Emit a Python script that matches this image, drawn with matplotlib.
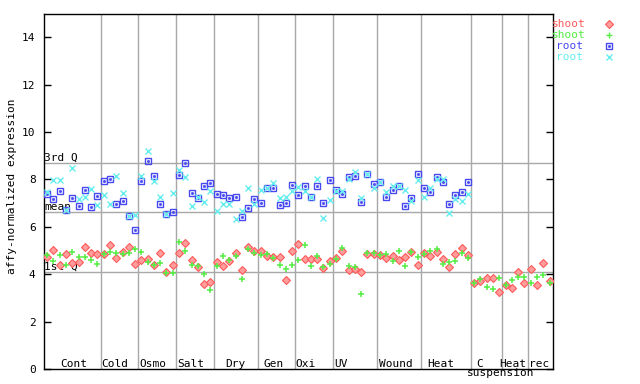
import matplotlib
matplotlib.use('Agg')
import matplotlib.pyplot as plt

plt.rcParams['font.family'] = 'DejaVu Sans Mono'

# experiment groups along x and how many samples each has
groups = ['Cont', 'Cold', 'Osmo', 'Salt', 'Dry', 'Gen', 'Oxi', 'UV',
          'Wound', 'Heat', 'C suspension', 'Heat', 'rec']
group_sizes = [9, 6, 6, 6, 7, 6, 6, 7, 7, 8, 5, 4, 4]

# shoot replicates (all 81 samples)
shoot_a = [4.71, 5.02, 4.38, 4.85, 4.46, 4.51, 5.14, 4.88, 4.84,
           4.85, 5.22, 4.67, 4.95, 5.14, 4.42,
           4.60, 4.64, 4.39, 4.89, 4.11, 4.38,
           4.88, 5.30, 4.60, 4.32, 3.57, 3.68,
           4.50, 4.33, 4.54, 4.88, 4.16, 5.13, 4.96,
           5.00, 4.75, 4.71, 4.71, 3.74, 5.00,
           5.26, 4.65, 4.63, 4.63, 4.28, 4.55,
           4.68, 4.96, 4.16, 4.20, 4.08, 4.85, 4.85,
           4.80, 4.67, 4.75, 4.58, 4.71, 4.92, 4.37,
           4.88, 4.79, 4.95, 4.64, 4.32, 4.84, 5.10, 4.80,
           3.65, 3.70, 3.82, 3.82, 3.23,
           3.53, 3.40, 4.08, 3.65,
           4.20, 3.53, 4.46, 3.70]
shoot_b = [4.80, 4.55, 4.80, 4.37, 4.94, 4.74, 4.74, 4.60, 4.42,
           4.85, 4.93, 4.88, 4.86, 4.88, 5.05,
           4.95, 4.50, 4.39, 4.46, 4.04, 4.04,
           5.36, 4.96, 4.40, 4.36, 4.03, 3.32,
           4.33, 4.75, 4.58, 4.75, 3.78, 5.05, 4.88,
           4.80, 4.84, 4.67, 4.41, 4.20, 4.37,
           4.60, 5.22, 4.36, 4.77, 4.32, 4.42,
           4.64, 5.09, 4.33, 4.29, 3.15, 4.88, 4.88,
           4.80, 4.84, 4.54, 5.00, 4.33, 4.92, 4.71,
           4.85, 4.98, 5.06, 4.42, 4.52, 4.55, 4.88, 4.67,
           3.65, 3.78, 3.44, 3.36, 3.82,
           3.53, 3.74, 3.87, 3.87,
           3.61, 3.87, 3.95, 3.61]

# root replicates (first 68 samples)
root_a = [7.40, 7.16, 7.51, 6.70, 7.20, 6.87, 7.54, 6.83, 7.29,
          7.92, 8.04, 6.96, 7.09, 6.45, 5.86,
          7.94, 8.79, 8.14, 6.96, 6.54, 6.62,
          8.18, 8.68, 7.41, 7.20, 7.72, 7.83,
          7.38, 7.34, 7.20, 7.28, 6.40, 6.78, 7.16,
          6.99, 7.65, 7.66, 6.91, 6.99, 7.75,
          7.33, 7.71, 7.24, 7.71, 6.99, 7.96,
          7.54, 7.37, 8.09, 8.13, 7.03, 8.24, 7.79,
          7.88, 7.28, 7.54, 7.71, 6.88, 7.20, 8.25,
          7.66, 7.45, 8.09, 7.88, 6.95, 7.33, 7.45, 7.88]
root_b = [7.46, 7.96, 7.96, 6.72, 8.47, 7.16, 7.25, 7.58, 6.92,
          7.34, 6.96, 8.14, 7.41, 6.47, 6.48,
          8.14, 9.18, 7.93, 7.24, 6.56, 7.41,
          8.40, 8.09, 6.90, 7.27, 7.06, 7.52,
          6.65, 6.96, 6.96, 6.31, 6.67, 7.62, 6.95,
          7.54, 7.62, 7.83, 7.20, 7.28, 7.52,
          7.69, 7.52, 7.24, 8.00, 6.36, 7.12,
          7.52, 7.50, 8.02, 8.30, 7.20, 8.24, 7.62,
          7.88, 7.45, 7.71, 7.71, 7.54, 7.07, 7.96,
          7.28, 7.64, 8.02, 8.02, 6.57, 7.19, 7.11, 7.38]

# reference lines
quartiles = [('3rd Q', 8.69), ('mean', 6.62), ('1st Q', 4.09)]

RED = '#ff5a5a'
GREEN = '#55ee44'
BLUE = '#4848f0'
CYAN = '#66eeee'
GRID = '#a8a8a8'

fig = plt.figure(figsize=(6.4, 3.84), dpi=100)
ax = fig.add_axes([44 / 640, 15 / 384, 508.7 / 640, 355.4 / 384])

n = len(shoot_a)
ax.set_xlim(-0.5, n - 0.5)
ax.set_ylim(0, 15)

# group dividers
edge = 0
for size in group_sizes[:-1]:
    edge += size
    ax.axvline(edge - 0.5, color=GRID, lw=1.0, zorder=1)

for name, val in quartiles:
    ax.axhline(val, color=GRID, lw=1.0, zorder=1)
    ax.text(-0.45, val, name, ha='left', va='bottom', fontsize=8, zorder=2)

xs = list(range(n))
xr = list(range(len(root_a)))
ax.plot(xs, shoot_a, ls='none', marker='D', ms=3.7, mfc='#ff9c9c', mec=RED, mew=0.8, zorder=3)
ax.plot(xs, shoot_b, ls='none', marker='+', ms=5, mew=1.1, color=GREEN, zorder=3)
ax.plot(xr, root_a, ls='none', marker='s', ms=4.6, mfc='none', mec=BLUE, mew=1.0, zorder=3)
ax.plot(xr, root_a, ls='none', marker='s', ms=1.0, color=BLUE, zorder=3)
ax.plot(xr, root_b, ls='none', marker='x', ms=4.6, mew=1.0, color=CYAN, zorder=3)

# group labels
label_x = [4.2, 10.8, 16.9, 22.9, 29.9, 36.1, 41.2, 46.85, 55.5, 62.7, 68.8, 74.2, 78.3]
for name, lx in zip(groups, label_x):
    first = name.split(' ')[0]
    ax.text(lx, 0.08, first, ha='center', va='baseline', fontsize=8)
    if ' ' in name:
        ax.text(72.2, -0.28, name.split(' ', 1)[1], ha='center', va='baseline',
                fontsize=8, clip_on=False)

ax.set_yticks(range(0, 15, 2))
ax.tick_params(axis='y', direction='in', length=5, width=1, left=True, right=True,
               labelsize=8, pad=6)
ax.tick_params(axis='x', bottom=False, labelbottom=False)
for sp in ax.spines.values():
    sp.set_linewidth(1.0)

fig.text(11.7 / 640, 1 - 186 / 384, 'affy-normalized expression', rotation=90,
         ha='center', va='center', fontsize=8)

# legend drawn by hand at the right
legend = [('shoot', RED, 'D'), ('shoot', GREEN, '+'), ('root', BLUE, 's'), ('root', CYAN, 'x')]
for k, (lab, col, mk) in enumerate(legend):
    ypx = 24 + k * 10.9
    fig.text(569 / 640, 1 - ypx / 384, lab, color=col, ha='center', va='center', fontsize=8)
    if mk == 'D':
        ax.plot([609 / 640], [1 - ypx / 384], marker='D', ms=3.7, mfc='#ff9c9c', mec=col,
                mew=0.8, transform=fig.transFigure, clip_on=False)
    elif mk == 's':
        ax.plot([609 / 640], [1 - ypx / 384], marker='s', ms=4.6, mfc='none', mec=col,
                mew=1.0, transform=fig.transFigure, clip_on=False)
        ax.plot([609 / 640], [1 - ypx / 384], marker='s', ms=1.0, color=col,
                transform=fig.transFigure, clip_on=False)
    else:
        ax.plot([609 / 640], [1 - ypx / 384], marker=mk, ms=5, mew=1.0, color=col,
                transform=fig.transFigure, clip_on=False)

fig.savefig('out.png', dpi=100)
